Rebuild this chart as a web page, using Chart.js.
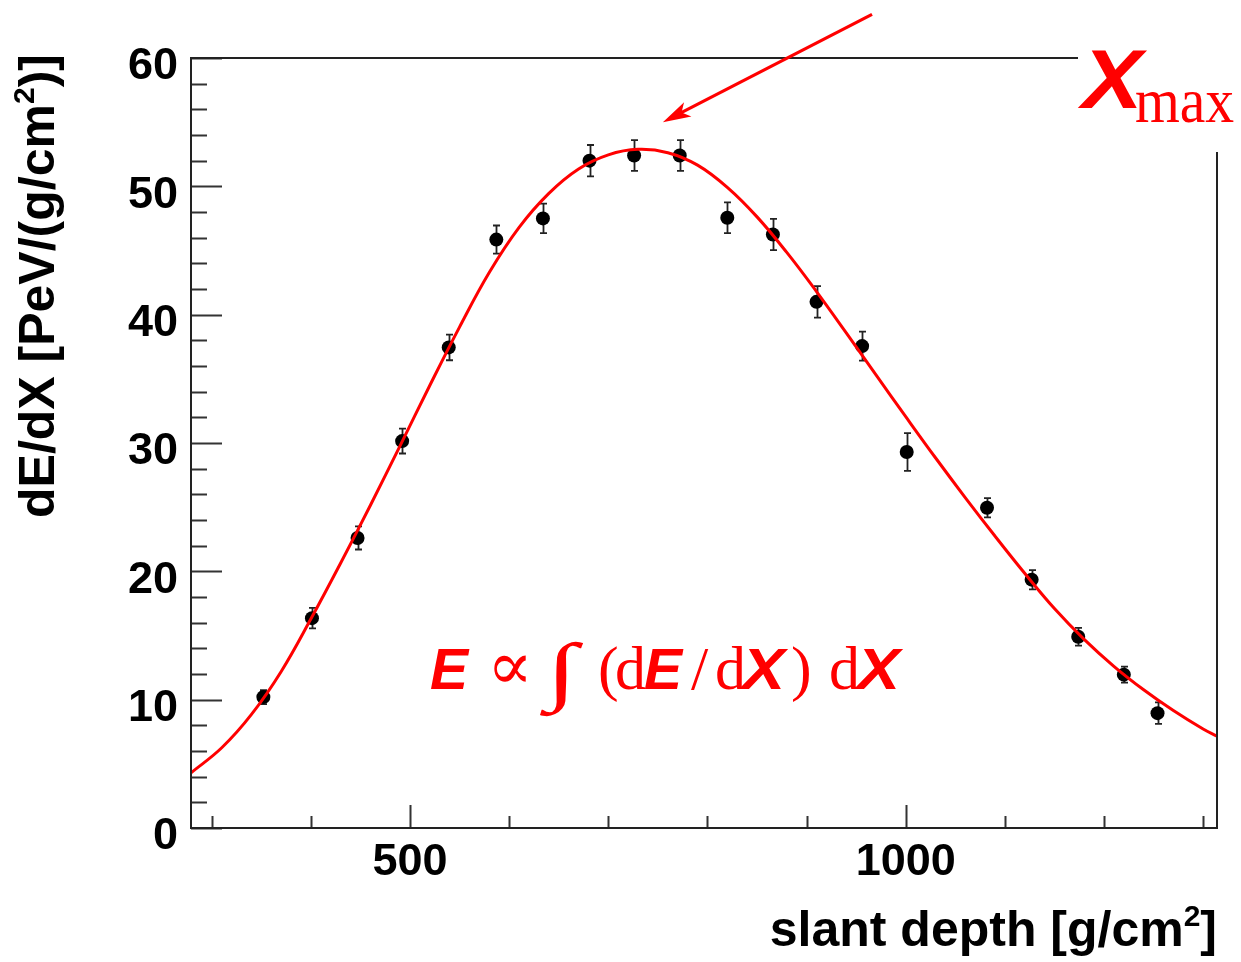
<!DOCTYPE html>
<html>
<head>
<meta charset="utf-8">
<script src="https://cdn.jsdelivr.net/npm/chart.js@4.4.0/dist/chart.umd.min.js"></script>
<style>
  html, body { margin: 0; padding: 0; background: #fff; }
  #wrap { width: 1241px; height: 962px; }
</style>
</head>
<body>
<div id="wrap"><canvas id="profile" width="1241" height="962"></canvas></div>
<script>
// Longitudinal shower profile: measured energy deposit vs slant depth, with the fitted profile

// measured points
const depth   = [352, 401, 447, 492, 539, 587, 634, 681, 726, 772, 820, 866, 910, 956, 1001, 1082, 1127, 1174, 1220, 1254];
const dEdX    = [10.2, 16.35, 22.6, 30.15, 37.45, 45.85, 47.5, 52.0, 52.4, 52.4, 47.55, 46.25, 41.0, 37.55, 29.3, 24.95, 19.35, 14.9, 11.95, 8.95];
const dEdXErr = [0.55, 0.8, 0.9, 0.97, 1.0, 1.1, 1.15, 1.22, 1.2, 1.2, 1.2, 1.22, 1.23, 1.13, 1.47, 0.75, 0.75, 0.69, 0.62, 0.84];

// fitted profile curve
const fitDepth = [279, 310, 340, 370, 400, 430, 460, 490, 520, 550, 580, 610, 640, 670, 700, 730, 760, 790,
                  820, 850, 880, 910, 940, 970, 1000, 1030, 1060, 1090, 1120, 1150, 1180, 1210, 1240, 1270, 1300, 1314];
const fitdEdX  = [4.3, 6.25, 8.85, 12.2, 16.3, 20.65, 25.15, 29.8, 34.5, 39.05, 43.3, 46.8, 49.45, 51.35, 52.45, 52.88, 52.62, 51.65,
                  49.92, 47.62, 44.85, 41.8, 38.58, 35.3, 32.05, 28.85, 25.75, 22.75, 19.85, 17.1, 14.7, 12.6, 10.77, 9.15, 7.71, 7.15];

// axis ranges and labelled ticks
const xRange = [279, 1314];
const yRange = [0, 60];
const xTicks = [500, 1000];
const yTicks = [0, 10, 20, 30, 40, 50, 60];

// annotation anchors (data coordinates)
const arrowTail = { x: 966, y: 63.4 };
const arrowTip  = { x: 755, y: 55.0 };
const formulaAt = { x: 520, y: 10.86 };

const SANS = "'Liberation Sans', Arial, Helvetica, sans-serif";
const SERIF = "'Liberation Serif', 'DejaVu Serif', 'Times New Roman', serif";
const RED = '#ff0000';

Chart.defaults.font.family = SANS;

// draws a list of [text, font, dy] runs one after another, returns the end x
function drawRuns(ctx, runs, x, y) {
  runs.forEach(function(r) {
    ctx.font = r[1];
    ctx.fillText(r[0], x, y + (r[2] || 0));
    x += ctx.measureText(r[0]).width;
  });
  return x;
}

// one glyph at (x, y), optionally stretched sideways
function glyph(ctx, text, font, x, y, sx) {
  ctx.save();
  ctx.translate(x, y);
  ctx.scale(sx || 1, 1);
  ctx.font = font;
  ctx.fillText(text, 0, 0);
  ctx.restore();
}

const frameAndTicks = {
  id: 'frameAndTicks',
  beforeDatasetsDraw(chart) {
    const { ctx, scales: { x, y } } = chart;
    // error bars go under the markers
    ctx.save();
    ctx.strokeStyle = '#222';
    ctx.lineWidth = 1.8;
    depth.forEach(function(d, i) {
      const px = Math.round(x.getPixelForValue(d)) + 0.5;
      const top = y.getPixelForValue(dEdX[i] + dEdXErr[i]);
      const bot = y.getPixelForValue(dEdX[i] - dEdXErr[i]);
      ctx.beginPath();
      ctx.moveTo(px, top); ctx.lineTo(px, bot);
      ctx.moveTo(px - 3.5, top); ctx.lineTo(px + 3.5, top);
      ctx.moveTo(px - 3.5, bot); ctx.lineTo(px + 3.5, bot);
      ctx.stroke();
    });
    ctx.restore();
  },
  afterDraw(chart) {
    const { ctx, chartArea: a, scales: { x, y } } = chart;
    ctx.save();
    ctx.strokeStyle = '#333';
    ctx.lineWidth = 2;

    // inward ticks on the left and bottom axes
    ctx.beginPath();
    for (let v = yRange[0]; v <= yRange[1]; v += 2) {
      const py = Math.round(y.getPixelForValue(v)) + 0.5;
      ctx.moveTo(a.left, py);
      ctx.lineTo(a.left + (v % 10 === 0 ? 31 : 16), py);
    }
    for (let v = 300; v <= 1300; v += 100) {
      const px = Math.round(x.getPixelForValue(v)) + 0.5;
      ctx.moveTo(px, a.bottom);
      ctx.lineTo(px, a.bottom - (v % 500 === 0 ? 23 : 12));
    }
    ctx.stroke();

    // frame, left open in the top right corner for the Xmax label
    const boxLeft = a.right - 139;
    const boxBottom = a.top + 94;
    ctx.strokeStyle = '#222';
    ctx.beginPath();
    ctx.moveTo(boxLeft, a.top); ctx.lineTo(a.left, a.top);
    ctx.lineTo(a.left, a.bottom); ctx.lineTo(a.right, a.bottom);
    ctx.lineTo(a.right, boxBottom);
    ctx.stroke();

    // arrow pointing at the shower maximum
    const tx = x.getPixelForValue(arrowTail.x), ty = y.getPixelForValue(arrowTail.y);
    const hx = x.getPixelForValue(arrowTip.x), hy = y.getPixelForValue(arrowTip.y);
    const c = Math.cos(Math.atan2(hy - ty, hx - tx)), s = Math.sin(Math.atan2(hy - ty, hx - tx));
    ctx.strokeStyle = RED;
    ctx.fillStyle = RED;
    ctx.lineWidth = 3.2;
    ctx.beginPath();
    ctx.moveTo(tx, ty);
    ctx.lineTo(hx - 18 * c, hy - 18 * s);
    ctx.stroke();
    ctx.beginPath();
    ctx.moveTo(hx, hy);
    ctx.lineTo(hx - 28 * c + 8 * s, hy - 28 * s - 8 * c);
    ctx.lineTo(hx - 21 * c, hy - 21 * s);
    ctx.lineTo(hx - 28 * c - 8 * s, hy - 28 * s + 8 * c);
    ctx.closePath();
    ctx.fill();

    // X_max label
    ctx.textBaseline = 'alphabetic';
    ctx.textAlign = 'left';
    glyph(ctx, 'X', 'italic bold 84px ' + SANS, a.right - 135, a.top + 50, 1.08);
    glyph(ctx, 'max', '64px ' + SERIF, a.right - 82, a.top + 64, 0.9);

    // E ∝ ∫ (dE/dX) dX, each glyph at its own offset from the start
    const it = 'italic bold 57px ' + SANS;
    const rm = '62px ' + SERIF;
    const fx = x.getPixelForValue(formulaAt.x), fy = y.getPixelForValue(formulaAt.y);
    [
      ['E', it, 0], ['\u221D', '68px ' + SERIF, 57], ['\u222B', '76px ' + SERIF, 116, 7, 1.5], ['(', rm, 168],
      ['d', rm, 185], ['E', it, 214], ['/', rm, 261], ['d', rm, 285], ['X', it, 312, 0, 1.13],
      [')', rm, 361], ['d', rm, 399], ['X', it, 427, 0, 1.13]
    ].forEach(function(g) {
      glyph(ctx, g[0], g[1], fx + g[2], fy + (g[3] || 0), g[4]);
    });

    // axis titles
    ctx.fillStyle = '#000';
    const bold = 'bold 50px ' + SANS;
    const sup = 'bold 30px ' + SANS;
    ctx.font = bold;
    const xt1 = 'slant depth [g/cm', xt2 = ']';
    let w = ctx.measureText(xt1).width + ctx.measureText(xt2).width;
    ctx.font = sup; w += ctx.measureText('2').width;
    drawRuns(ctx, [[xt1, bold], ['2', sup, -20], [xt2, bold]], a.right - w, 946);

    ctx.save();
    ctx.translate(54, 518);
    ctx.rotate(-Math.PI / 2);
    drawRuns(ctx, [['dE/dX [PeV/(g/cm', bold], ['2', sup, -20], [')]', bold]], 0, 0);
    ctx.restore();

    ctx.restore();
  }
};

new Chart(document.getElementById('profile'), {
  type: 'scatter',
  data: {
    datasets: [
      {
        label: 'fit',
        data: fitDepth.map(function(d, i) { return { x: d, y: fitdEdX[i] }; }),
        showLine: true,
        borderColor: RED,
        borderWidth: 3,
        pointRadius: 0,
        tension: 0.4
      },
      {
        label: 'data',
        data: depth.map(function(d, i) { return { x: d, y: dEdX[i] }; }),
        backgroundColor: '#000',
        borderWidth: 0,
        pointRadius: 7
      }
    ]
  },
  options: {
    responsive: false,
    animation: false,
    devicePixelRatio: 1,
    layout: { padding: { top: 58, right: 24, left: 0, bottom: 0 } },
    plugins: { legend: { display: false }, tooltip: { enabled: false } },
    scales: {
      x: {
        type: 'linear',
        min: xRange[0],
        max: xRange[1],
        grid: { display: false },
        border: { display: false },
        afterBuildTicks: function(s) { s.ticks = xTicks.map(function(v) { return { value: v }; }); },
        afterFit: function(s) { s.height = 134; },
        ticks: {
          color: '#000',
          padding: 0,
          maxRotation: 0,
          font: { size: 45, weight: 'bold' },
          callback: function(v) { return String(v); }
        }
      },
      y: {
        min: yRange[0],
        max: yRange[1],
        grid: { display: false },
        border: { display: false },
        afterBuildTicks: function(s) { s.ticks = yTicks.map(function(v) { return { value: v }; }); },
        afterFit: function(s) { s.width = 191; },
        ticks: {
          color: '#000',
          padding: 5,
          labelOffset: 9,
          font: { size: 45, weight: 'bold' },
          callback: function(v) { return String(v); }
        }
      }
    }
  },
  plugins: [frameAndTicks]
});
</script>
</body>
</html>
